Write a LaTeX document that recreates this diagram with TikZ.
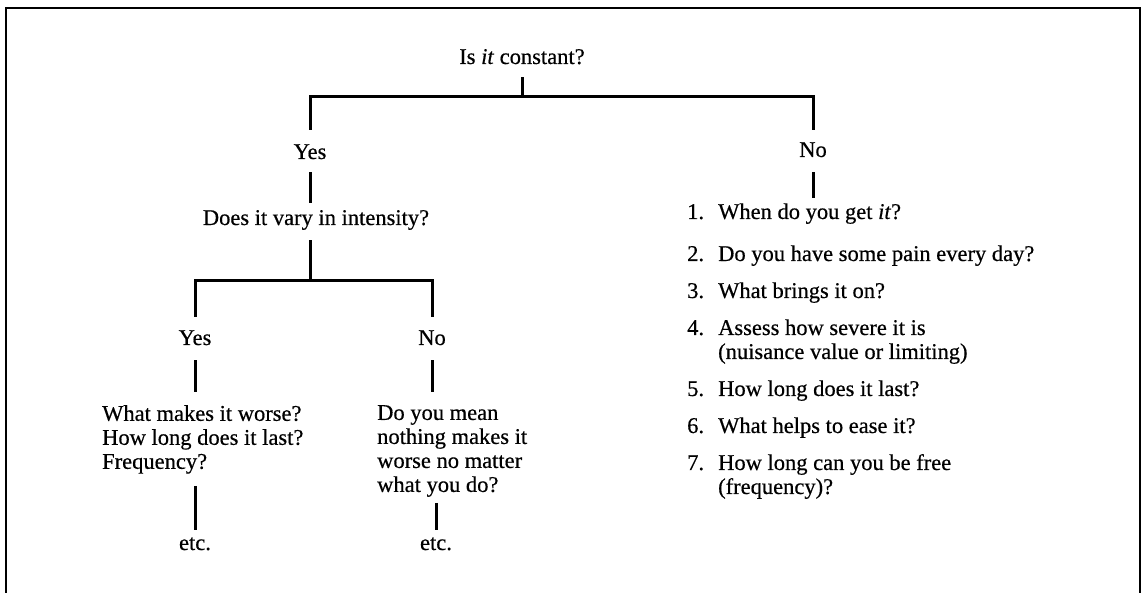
\documentclass[tikz,border=0pt]{standalone}
\usepackage{fontspec}
\setmainfont[FakeBold=0.5]{Liberation Serif}
\newcommand\qfont{\fontsize{22.5pt}{24pt}\selectfont}
\begin{document}
\begin{tikzpicture}[x=1pt,y=-1pt,
  lbl/.style={inner sep=0pt, text height=15pt, text depth=5pt, font=\qfont},
  block/.style={inner sep=0pt, align=left, font=\qfont, anchor=north west},
  link/.style={line width=3pt},
  rim/.style={line width=2.2pt},
]
\useasboundingbox (0,0) rectangle (1144,593);
% open frame round the tree
\draw[rim] (6,593) -- (6,8) -- (1140,8) -- (1140,593);

% question nodes and answers
\node[lbl, anchor=base] (q0) at (522,64) {Is \textit{it} constant?};
\coordinate (j0) at (522,97);
\node[lbl, anchor=base] (yes1) at (310,159) {Yes};
\node[lbl, anchor=base] (no1) at (813,157) {No};
\node[lbl, anchor=base] (q1) at (316,225) {Does it vary in intensity?};
\coordinate (j1) at (310,281);
\node[lbl, anchor=base] (yes2) at (195,345) {Yes};
\node[lbl, anchor=base] (no2) at (432,345) {No};
\node[block] (a1) at (102,405) {What makes it worse?\\How long does it last?\\Frequency?};
\node[block] (a2) at (377,405) {Do you mean\\nothing makes it\\worse no matter\\what you do?};
\node[lbl, anchor=base] (etc1) at (195,550) {etc.};
\node[lbl, anchor=base] (etc2) at (436,550) {etc.};
\node[inner sep=0pt, font=\qfont, anchor=north west] (list) at (687,202) {%
  \begin{tabular}{@{}p{31pt}@{}l@{}}
  1. & When do you get \textit{it}?\\[18pt]
  2. & Do you have some pain every day?\\[13pt]
  3. & What brings it on?\\[13pt]
  4. & Assess how severe it is\\
     & (nuisance value or limiting)\\[13pt]
  5. & How long does it last?\\[13pt]
  6. & What helps to ease it?\\[13pt]
  7. & How long can you be free\\
     & (frequency)?
  \end{tabular}};

% connectors
\draw[link, shorten <=8pt] (q0.south) -- (j0);
\draw[link, shorten >=14pt] (j0) -| (yes1.north);
\draw[link, shorten >=12pt] (j0) -| (no1.north);
\draw[link, shorten <=8pt, shorten >=7pt] (yes1.south) -- (yes1.south |- q1.north);
\draw[link, shorten <=10pt] (yes1.south |- q1.south) -- (j1);
\draw[link, shorten >=13pt] (j1) -| (yes2.north);
\draw[link, shorten >=13pt] (j1) -| (no2.north);
\draw[link, shorten <=10pt, shorten >=13pt] (yes2.south) -- (yes2.south |- a1.north);
\draw[link, shorten <=10pt, shorten >=13pt] (no2.south) -- (no2.south |- a2.north);
\draw[link, shorten <=12pt, shorten >=5pt] (etc1.north |- a1.south) -- (etc1.north);
\draw[link, shorten <=6pt, shorten >=5pt] (etc2.north |- a2.south) -- (etc2.north);
\draw[link, shorten <=10pt, shorten >=4pt] (no1.south) -- (no1.south |- list.north);
\end{tikzpicture}
\end{document}
